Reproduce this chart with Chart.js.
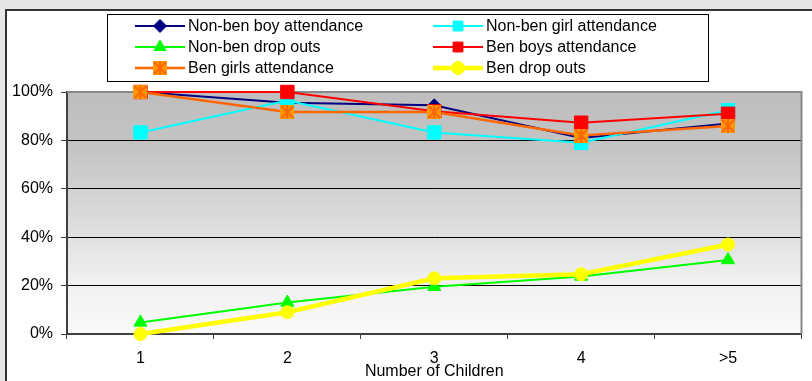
<!DOCTYPE html>
<html>
<head>
<meta charset="utf-8">
<title>Attendance and drop outs by number of children</title>
<script src="https://cdn.jsdelivr.net/npm/chart.js@4/dist/chart.umd.min.js"></script>
<style>
  html, body { margin: 0; padding: 0; background: #e6e6e6; }
  #wrap { position: relative; width: 812px; height: 381px; }
  canvas { display: block; }
</style>
</head>
<body>
<div id="wrap"><canvas id="chart" width="812" height="381"></canvas></div>
<script>
// Categories (number of children in the household)
const categories = ['1', '2', '3', '4', '>5'];

// Series values, in percent
const nonBenBoyAttendance  = [100, 95.6, 94.5, 81.0, 87.0];
const nonBenGirlAttendance = [83.3, 96.5, 83.3, 79.0, 92.5];
const nonBenDropOuts       = [4.8, 13.0, 19.5, 23.8, 30.6];
const benBoysAttendance    = [100, 100, 92.0, 87.3, 91.0];
const benGirlsAttendance   = [100, 91.7, 91.7, 82.0, 86.0];
const benDropOuts          = [0, 9.0, 23.0, 24.7, 37.0];

// Y axis tick values
const yTicks = [0, 20, 40, 60, 80, 100];

const seriesNames = [
  'Non-ben boy attendance', 'Non-ben girl attendance',
  'Non-ben drop outs', 'Ben boys attendance',
  'Ben girls attendance', 'Ben drop outs'
];

const FONT = '"Liberation Sans", Arial, sans-serif';

// Orange asterisk marker on a filled square
function starMarker(size) {
  const c = document.createElement('canvas');
  c.width = size; c.height = size;
  const g = c.getContext('2d');
  g.fillStyle = '#ff9900';
  g.fillRect(0, 0, size, size);
  g.strokeStyle = '#ff6600';
  g.lineWidth = 2;
  g.beginPath();
  g.moveTo(1, 1); g.lineTo(size - 1, size - 1);
  g.moveTo(size - 1, 1); g.lineTo(1, size - 1);
  g.moveTo(size / 2, 0); g.lineTo(size / 2, size);
  g.stroke();
  return c;
}
const star = starMarker(14);

function series(label, data, color, style, radius, width, order, fill) {
  return {
    label, data, order,
    borderColor: color,
    backgroundColor: fill || color,
    pointBackgroundColor: fill || color,
    pointBorderColor: color,
    pointBorderWidth: 1,
    pointStyle: style,
    pointRadius: radius,
    pointHoverRadius: radius,
    borderWidth: width,
    tension: 0,
    clip: false
  };
}

const datasets = [
  series(seriesNames[0], nonBenBoyAttendance,  '#000080', 'rectRot',  6.5, 2, 6),
  series(seriesNames[1], nonBenGirlAttendance, '#00ffff', 'rect',     9.5, 2, 5),
  series(seriesNames[2], nonBenDropOuts,       '#00ff00', 'triangle', 7.5, 2, 4),
  series(seriesNames[3], benBoysAttendance,    '#ff0000', 'rect',     9.5, 2, 3),
  series(seriesNames[4], benGirlsAttendance,   '#ff6600', star,       7,   2.5, 2, '#ff9900'),
  series(seriesNames[5], benDropOuts,          '#ffff00', 'circle',   6.5, 4.5, 1)
];

// Page frame and plot-area gradient
const backdrop = {
  id: 'backdrop',
  beforeDraw(chart) {
    const { ctx, chartArea: a } = chart;
    ctx.save();
    ctx.fillStyle = '#e6e6e6';
    ctx.fillRect(0, 0, chart.width, chart.height);
    ctx.fillStyle = '#ffffff';
    ctx.fillRect(7, 11, chart.width - 7, chart.height - 11);
    ctx.strokeStyle = '#333333';
    ctx.lineWidth = 2;
    ctx.beginPath();
    ctx.moveTo(6, chart.height); ctx.lineTo(6, 10); ctx.lineTo(chart.width, 10);
    ctx.stroke();
    const grad = ctx.createLinearGradient(0, a.top, 0, a.bottom);
    grad.addColorStop(0, '#bebebe');
    grad.addColorStop(0.22, '#c3c3c3');
    grad.addColorStop(0.5, '#d9d9d9');
    grad.addColorStop(0.78, '#f0f0f0');
    grad.addColorStop(1, '#fafafa');
    ctx.fillStyle = grad;
    ctx.fillRect(a.left, a.top, a.right - a.left, a.bottom - a.top);
    ctx.restore();
  },
  beforeDatasetsDraw(chart) {
    const { ctx, chartArea: a } = chart;
    ctx.save();
    ctx.strokeStyle = '#888888';
    ctx.lineWidth = 2;
    ctx.beginPath();
    ctx.moveTo(a.left, a.top); ctx.lineTo(a.right, a.top); ctx.lineTo(a.right, a.bottom);
    ctx.stroke();
    ctx.restore();
  }
};

// Boxed legend with line-and-marker samples, two columns
const boxedLegend = {
  id: 'boxedLegend',
  afterDraw(chart) {
    const ctx = chart.ctx;
    const box = { x: 107.5, y: 14.5, w: 601, h: 67 };
    const cols = [135, 433];
    const rows = [26, 47, 68];
    const sampleLen = 50;
    ctx.save();
    ctx.fillStyle = '#ffffff';
    ctx.fillRect(box.x, box.y, box.w, box.h);
    ctx.strokeStyle = '#000000';
    ctx.lineWidth = 1;
    ctx.strokeRect(box.x, box.y, box.w, box.h);
    chart.data.datasets.forEach((ds, i) => {
      const x0 = cols[i % 2];
      const y = rows[Math.floor(i / 2)];
      ctx.strokeStyle = ds.borderColor;
      ctx.lineWidth = ds.borderWidth;
      ctx.beginPath();
      ctx.moveTo(x0, y); ctx.lineTo(x0 + sampleLen, y);
      ctx.stroke();
      ctx.fillStyle = ds.pointBackgroundColor;
      ctx.strokeStyle = ds.pointBorderColor;
      ctx.lineWidth = 1;
      Chart.helpers.drawPoint(ctx, {
        pointStyle: ds.pointStyle,
        radius: Math.min(ds.pointRadius, 7),
        rotation: 0,
        borderWidth: 1
      }, x0 + sampleLen / 2, y);
      ctx.fillStyle = '#000000';
      ctx.font = '16px ' + FONT;
      ctx.textBaseline = 'middle';
      ctx.textAlign = 'left';
      ctx.fillText(ds.label, x0 + sampleLen + 3, y + 1);
    });
    ctx.restore();
  }
};

new Chart(document.getElementById('chart'), {
  type: 'line',
  data: { labels: categories, datasets },
  plugins: [backdrop, boxedLegend],
  options: {
    responsive: false,
    animation: false,
    events: [],
    layout: { padding: { top: 92, right: 10, left: 0, bottom: 0 } },
    plugins: {
      legend: { display: false },
      tooltip: { enabled: false }
    },
    scales: {
      x: {
        type: 'category',
        offset: true,
        afterFit(scale) { scale.height = 47; },
        grid: {
          offset: true,
          drawOnChartArea: false,
          drawTicks: true,
          tickLength: 5,
          color: '#404040',
          lineWidth: 1
        },
        border: { color: '#404040', width: 2 },
        ticks: {
          color: '#000000',
          padding: 10,
          maxRotation: 0,
          font: { family: FONT, size: 16 }
        },
        title: {
          display: true,
          text: 'Number of Children',
          color: '#000000',
          padding: { top: 0, bottom: 0 },
          font: { family: FONT, size: 16 }
        }
      },
      y: {
        min: 0,
        max: 100,
        afterFit(scale) { scale.width = 67; },
        afterBuildTicks(scale) { scale.ticks = yTicks.map(v => ({ value: v })); },
        grid: {
          color: '#000000',
          lineWidth: 1,
          drawTicks: true,
          tickLength: 6,
          tickColor: '#404040'
        },
        border: { color: '#404040', width: 2 },
        ticks: {
          color: '#000000',
          padding: 8,
          font: { family: FONT, size: 16 },
          callback: v => v + '%'
        }
      }
    }
  }
});
</script>
</body>
</html>
